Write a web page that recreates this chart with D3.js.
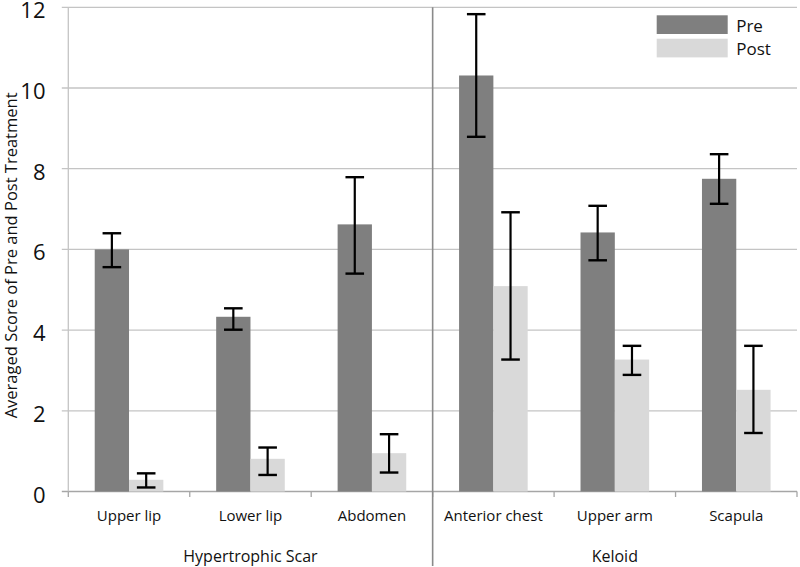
<!DOCTYPE html>
<html><head><meta charset="utf-8">
<script src="https://cdn.jsdelivr.net/npm/d3@7"></script>
<style>
html,body{margin:0;padding:0;background:#fff;}
svg{display:block;font-family:"Open Sans",sans-serif;}
</style></head>
<body>
<svg id="chart" width="800" height="567"></svg>
<script>
const categories = ["Upper lip","Lower lip","Abdomen","Anterior chest","Upper arm","Scapula"];
const groups = ["Hypertrophic Scar","Keloid"];
const groupOf = [0,0,0,1,1,1];
const series = ["Pre","Post"];
const preValues  = [6.00, 4.33, 6.62, 10.31, 6.42, 7.75];
const preLow     = [5.56, 4.01, 5.40, 8.79, 5.73, 7.13];
const preHigh    = [6.40, 4.54, 7.79, 11.83, 7.08, 8.36];
const postValues = [0.29, 0.81, 0.95, 5.09, 3.27, 2.52];
const postLow    = [0.10, 0.41, 0.47, 3.27, 2.89, 1.45];
const postHigh   = [0.45, 1.09, 1.42, 6.92, 3.61, 3.61];
const yTicks = [0,2,4,6,8,10,12];
const yTitle = "Averaged Score of Pre and Post Treatment";

(function(){
const colors = {Pre:"#7f7f7f", Post:"#d9d9d9"};
const svg = d3.select("#chart");
const pL = 68.3, pR = 797, pT = 7.3, pB = 491.5;

const x = d3.scaleBand().domain(categories).range([pL, pR]).padding(0);
const xs = d3.scaleBand().domain(series).range([0, x.bandwidth()]).paddingInner(0).paddingOuter(0.77);
const y = d3.scaleLinear().domain([0,12]).range([pB, pT]);

// gridlines
svg.append("g").selectAll("line").data(yTicks).join("line")
  .attr("x1", pL - 6.5).attr("x2", pR)
  .attr("y1", d => y(d)).attr("y2", d => y(d))
  .attr("stroke", d => d === 0 ? "#a6a6a6" : "#c4c4c4").attr("stroke-width", 1.3);

// y axis line
svg.append("line").attr("x1", pL).attr("x2", pL).attr("y1", pT).attr("y2", pB)
  .attr("stroke", "#c4c4c4").attr("stroke-width", 1.3);

// y tick labels
svg.append("g").selectAll("text").data(yTicks).join("text")
  .attr("x", 45.5).attr("y", d => y(d)).attr("dy", "0.5em")
  .attr("text-anchor", "end").attr("font-size", 22).attr("fill", "#111")
  .text(d => d);

// x ticks at category boundaries
const bounds = categories.map(c => x(c)).concat([pR]);
svg.append("g").selectAll("line").data(bounds).join("line")
  .attr("x1", d => d).attr("x2", d => d).attr("y1", pB).attr("y2", pB + 5.5)
  .attr("stroke", "#a6a6a6").attr("stroke-width", 1.3);

// data rows
const rows = categories.map((c, i) => ({
  cat: c,
  bars: [
    {s:"Pre", v:preValues[i], lo:preLow[i], hi:preHigh[i]},
    {s:"Post", v:postValues[i], lo:postLow[i], hi:postHigh[i]}
  ]
}));

const g = svg.append("g").selectAll("g").data(rows).join("g")
  .attr("transform", d => `translate(${x(d.cat)},0)`);

g.selectAll("rect").data(d => d.bars).join("rect")
  .attr("x", d => xs(d.s)).attr("width", xs.bandwidth())
  .attr("y", d => y(d.v)).attr("height", d => y(0) - y(d.v))
  .attr("fill", d => colors[d.s]);

const cap = 9.3;
const eb = g.selectAll("g.err").data(d => d.bars).join("g").attr("class","err")
  .attr("transform", d => `translate(${xs(d.s) + xs.bandwidth()/2},0)`);
eb.append("line").attr("x1",0).attr("x2",0).attr("y1", d => y(d.hi)).attr("y2", d => y(d.lo))
  .attr("stroke","#000").attr("stroke-width",2.2);
eb.append("line").attr("x1",-cap).attr("x2",cap).attr("y1", d => y(d.hi)).attr("y2", d => y(d.hi))
  .attr("stroke","#000").attr("stroke-width",2.4);
eb.append("line").attr("x1",-cap).attr("x2",cap).attr("y1", d => y(d.lo)).attr("y2", d => y(d.lo))
  .attr("stroke","#000").attr("stroke-width",2.4);

// category labels
svg.append("g").selectAll("text").data(categories).join("text")
  .attr("x", d => x(d) + x.bandwidth()/2).attr("y", 521)
  .attr("text-anchor","middle").attr("font-size",15).attr("fill","#111")
  .text(d => d);

// group divider
const divX = x(categories[3]);
svg.append("line").attr("x1", divX).attr("x2", divX).attr("y1", pT).attr("y2", 566)
  .attr("stroke", "#8a8a8a").attr("stroke-width", 1.6);

// group labels
svg.append("g").selectAll("text").data(groups).join("text")
  .attr("x", (d, gi) => {
    const cats = categories.filter((c, i) => groupOf[i] === gi);
    return (x(cats[0]) + x(cats[cats.length-1]) + x.bandwidth()) / 2;
  })
  .attr("y", 561.5).attr("text-anchor","middle").attr("font-size",16).attr("fill","#111")
  .text(d => d);

// y title
svg.append("text").attr("transform", `translate(17,${(pT+pB)/2 + 6}) rotate(-90)`)
  .attr("text-anchor","middle").attr("font-size",16.5).attr("fill","#111")
  .text(yTitle);

// legend
const lg = svg.append("g").selectAll("g").data(series).join("g")
  .attr("transform", (d,i) => `translate(656.7,${15.3 + i*23.4})`);
lg.append("rect").attr("width",71).attr("height",18.7).attr("fill", d => colors[d]);
lg.append("text").attr("x",79.5).attr("y",16.3).attr("font-size",17).attr("fill","#111").text(d => d);
})();
</script>
</body></html>
